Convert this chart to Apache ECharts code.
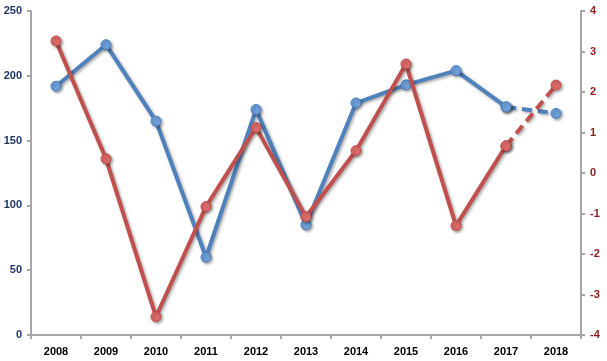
<!DOCTYPE html>
<html><head><meta charset="utf-8">
<script src="https://cdn.jsdelivr.net/npm/echarts@6/dist/echarts.min.js"></script>
<style>html,body{margin:0;padding:0;background:#fff}#c{width:607px;height:361px}</style>
</head><body><div id="c"></div>
<script>
var years = ['2008','2009','2010','2011','2012','2013','2014','2015','2016','2017','2018'];
var blueValues = [192, 224, 165, 60, 174, 85, 179, 193, 204, 176, 171];
var redValues = [3.26, 0.35, -3.55, -0.83, 1.12, -1.08, 0.55, 2.69, -1.30, 0.67, 2.17];
var leftTicks = [0, 50, 100, 150, 200, 250];
var rightTicks = [-4, -3, -2, -1, 0, 1, 2, 3, 4];

var solidCount = 10; // solid through 2017, dashed 2017->2018
function solidPart(arr){ return arr.map(function(v,i){ return i < solidCount ? v : '-'; }); }
function dashPart(arr){ return arr.map(function(v,i){ return i >= solidCount-1 ? v : '-'; }); }

var blue = '#4F81BD', red = '#C0504D';
function markerStyle(fill, border){
  return {color: fill, borderColor: border, borderWidth: 1,
    shadowColor:'rgba(0,0,0,0.35)', shadowBlur:3, shadowOffsetX:1.5, shadowOffsetY:1.5};
}
function lineSeries(name, data, yIdx, color, mfill, dashed, z){
  return {name:name, type:'line', data:data, yAxisIndex:yIdx, symbol:'circle', symbolSize:10,
    z:z, connectNulls:false,
    lineStyle:{color:color, width:4, type: dashed ? [10,6] : 'solid',
      shadowColor:'rgba(0,0,0,0.35)', shadowBlur:3, shadowOffsetX:1.5, shadowOffsetY:1.5},
    itemStyle: markerStyle(mfill, color), animation:false};
}
var chart = echarts.init(document.getElementById('c'));
chart.setOption({
  animation:false,
  grid:{left:31, right:26, top:11, bottom:26},
  xAxis:{type:'category', data:years, boundaryGap:true,
    axisLine:{lineStyle:{color:'#A6A6A6', width:2}},
    axisTick:{show:true, alignWithLabel:false, length:4, lineStyle:{color:'#A6A6A6', width:2}},
    axisLabel:{color:'#000', fontWeight:'bold', fontSize:11, fontFamily:'Liberation Sans', margin:11}},
  yAxis:[
    {type:'value', min:leftTicks[0], max:leftTicks[leftTicks.length-1], interval:50, position:'left',
     axisLine:{show:true, lineStyle:{color:'#A6A6A6', width:2}},
     axisTick:{show:true, length:4, lineStyle:{color:'#A6A6A6', width:2}},
     splitLine:{show:false},
     axisLabel:{color:'#1F3864', fontWeight:'bold', fontSize:11, fontFamily:'Liberation Sans', margin:9}},
    {type:'value', min:rightTicks[0], max:rightTicks[rightTicks.length-1], interval:1, position:'right',
     axisLine:{show:true, lineStyle:{color:'#A6A6A6', width:2}},
     axisTick:{show:true, length:4, lineStyle:{color:'#A6A6A6', width:2}},
     splitLine:{show:false},
     axisLabel:{color:'#8B1A1A', fontWeight:'bold', fontSize:11, fontFamily:'Liberation Sans', margin:9}}
  ],
  series:[
    lineSeries('blue', solidPart(blueValues), 0, blue, '#6E9FDB', false, 2),
    lineSeries('blueDash', dashPart(blueValues), 0, blue, '#6E9FDB', true, 2),
    lineSeries('red', solidPart(redValues), 1, red, '#DB6B69', false, 3),
    lineSeries('redDash', dashPart(redValues), 1, red, '#DB6B69', true, 3)
  ]
});
</script></body></html>
